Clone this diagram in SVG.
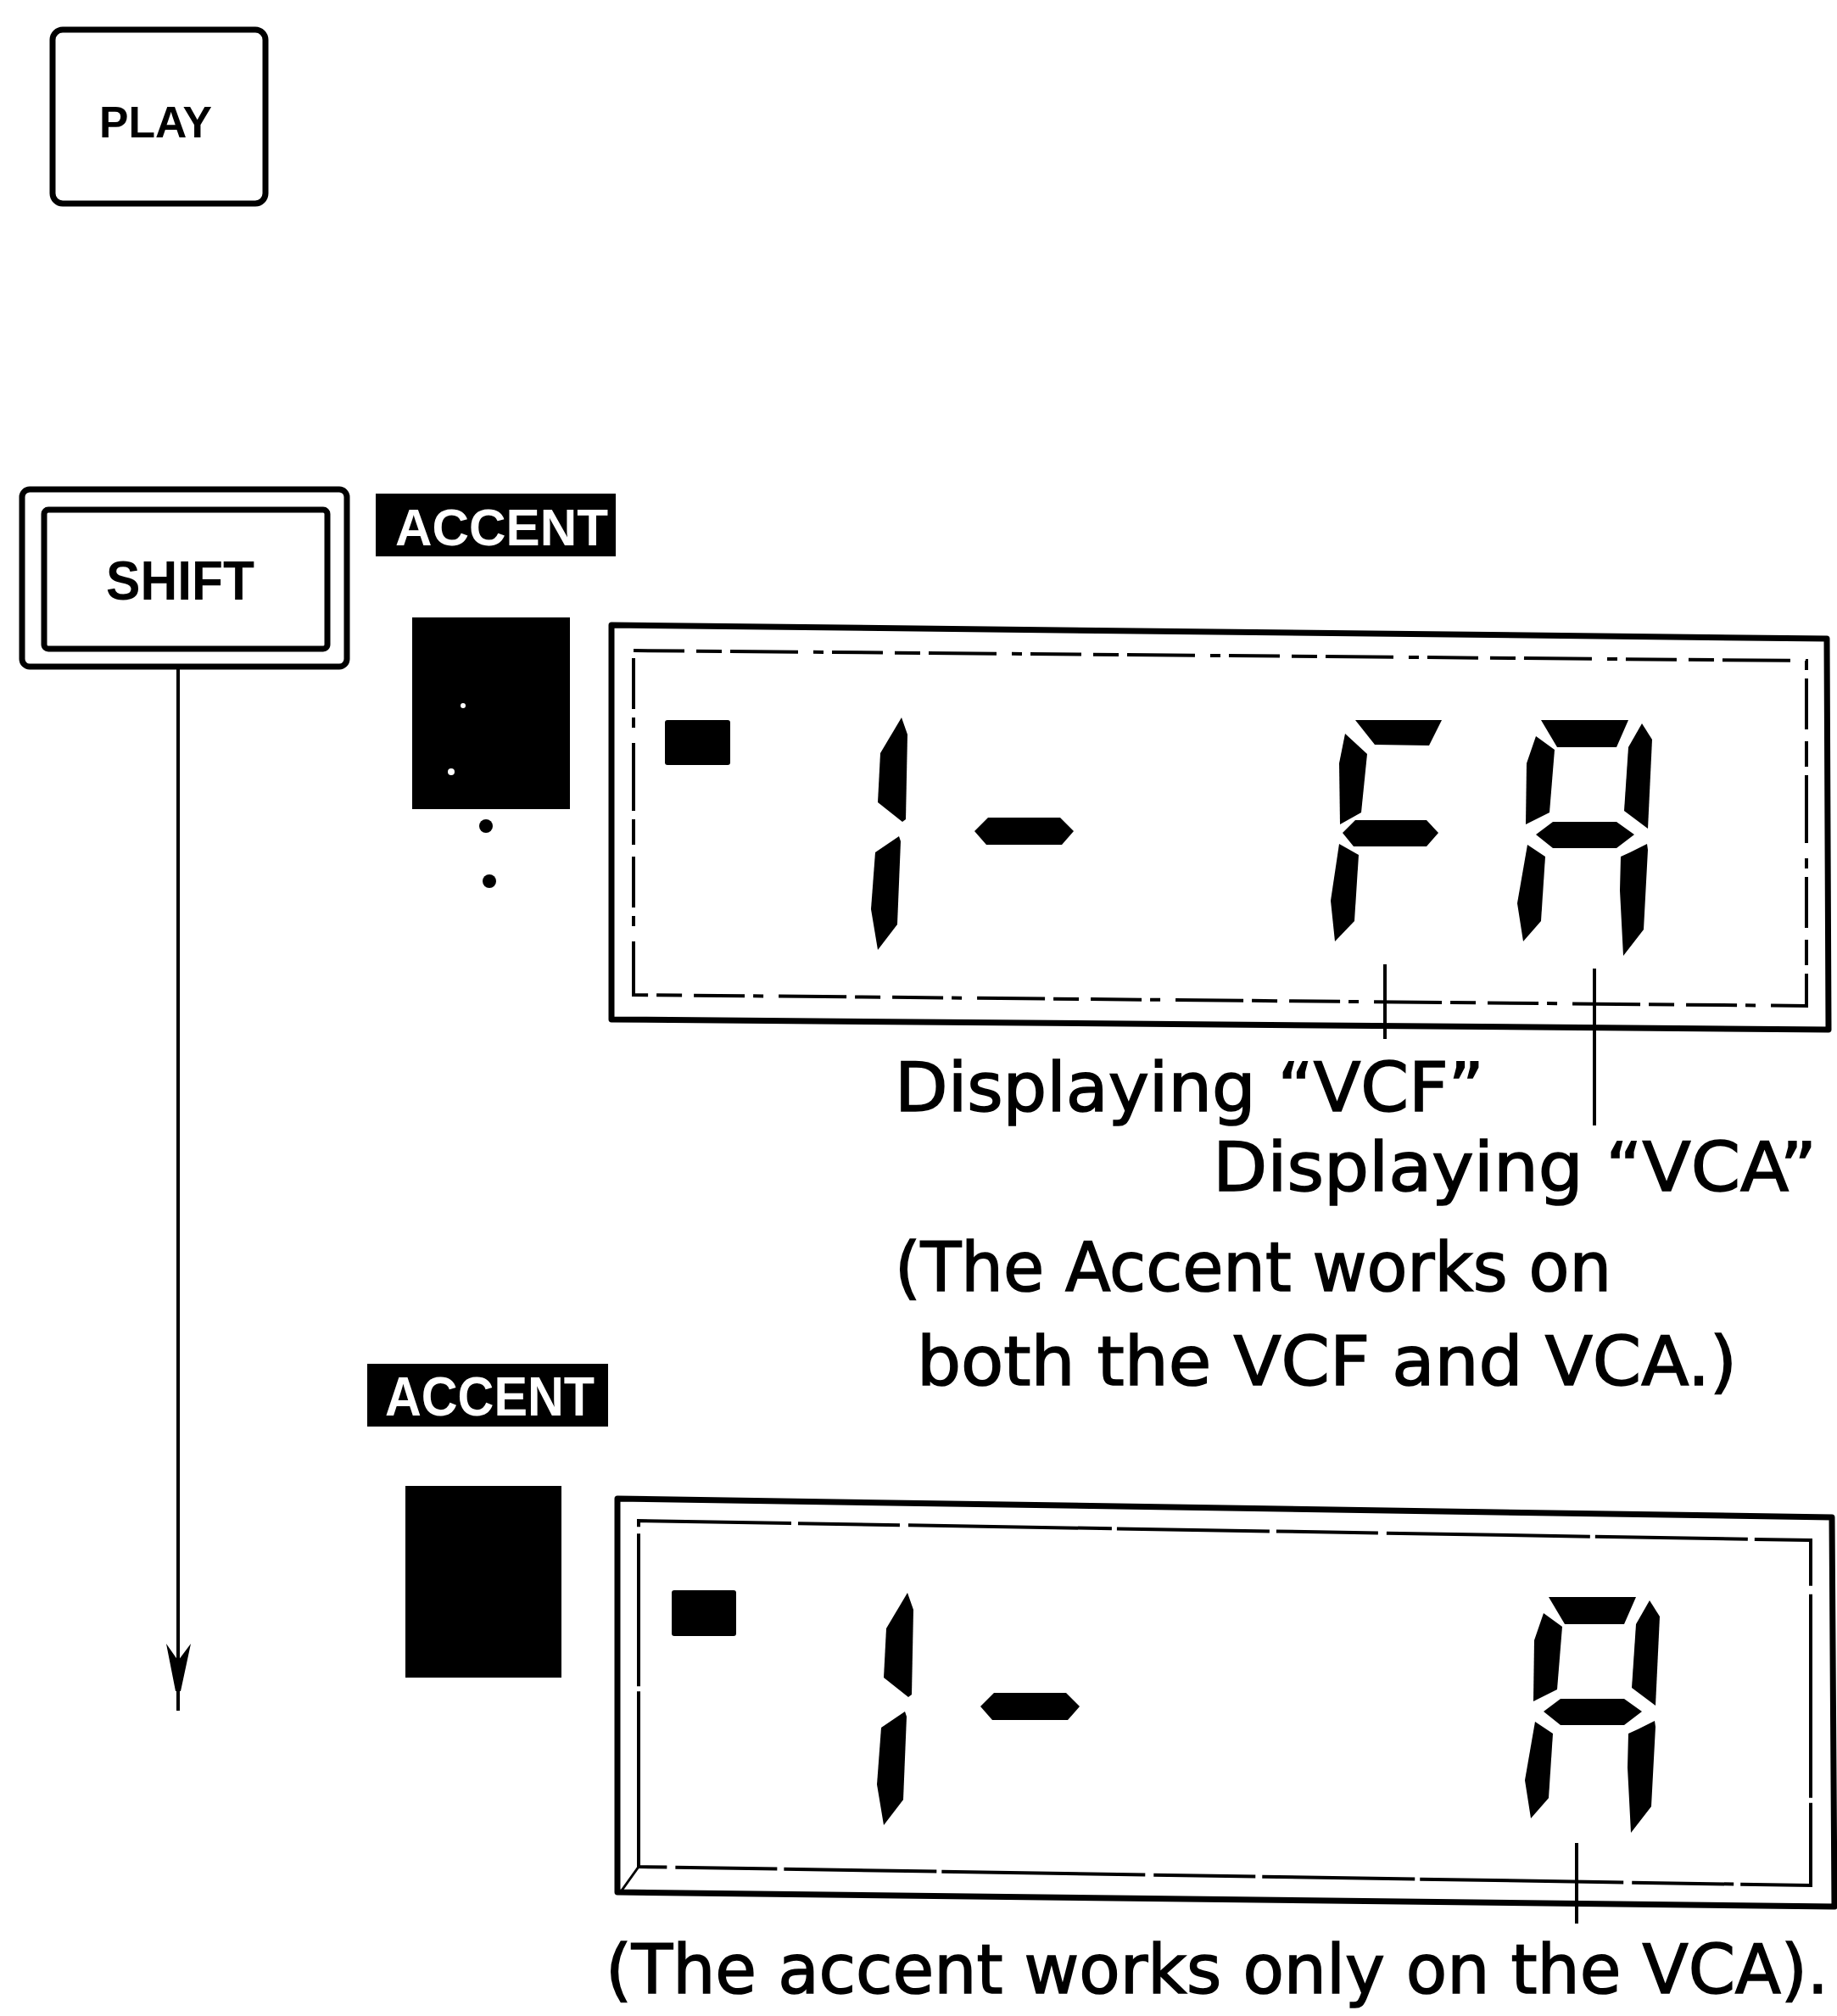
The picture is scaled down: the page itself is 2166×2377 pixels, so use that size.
<svg xmlns="http://www.w3.org/2000/svg" width="2166" height="2377" viewBox="0 0 2166 2377">
<style>
.key{font-family:"Liberation Sans",Arial,sans-serif;font-weight:bold;fill:#000}
.tag{font-family:"Liberation Sans",Arial,sans-serif;font-weight:bold;fill:#fff}
.lbl{font-family:"DejaVu Sans","Liberation Sans",sans-serif;font-size:80px;fill:#000;stroke:#000;stroke-width:1.6}
.seg{fill:#000}
.frame{fill:none;stroke:#000;stroke-width:7;stroke-linejoin:round}
.inner1{fill:none;stroke:#000;stroke-width:4;stroke-dasharray:60 14 30 10 80 18 12 10}
.inner2{fill:none;stroke:#000;stroke-width:4;stroke-dasharray:180 8 120 10 240 6}
.lead{stroke:#000;stroke-width:4;fill:none}
</style>
<rect width="2166" height="2377" fill="#fff"/>
<defs>
<g id="one">
<path class="seg" d="M1063,846 L1070,866 L1068,966 L1064,969 L1035,946 L1038,888 Z"/>
<path class="seg" d="M1060,986 L1062,992 L1058,1090 L1035,1120 L1027,1072 L1032,1005 Z"/>
<path class="seg" d="M1149,980 L1165,964 L1250,964 L1266,980 L1252,996 L1163,996 Z"/>
</g>
<g id="letterA">
<path class="seg" d="M1817,849 L1920,849 L1906,881 L1836,881 Z"/>
<path class="seg" d="M1936,853 L1948,872 L1943,977 L1915,956 L1920,881 Z"/>
<path class="seg" d="M1811,868 L1833,884 L1827,958 L1799,972 L1800,900 Z"/>
<path class="seg" d="M1811,984 L1831,969 L1906,969 L1927,984 L1906,1000 L1831,1000 Z"/>
<path class="seg" d="M1801,996 L1822,1010 L1817,1086 L1796,1110 L1789,1065 Z"/>
<path class="seg" d="M1942,995 L1943,1002 L1938,1096 L1914,1127 L1910,1050 L1911,1010 L1922,1005 Z"/>
</g>
</defs>

<g id="play">
<rect x="62" y="35" width="251" height="205" rx="12" class="frame"/>
<text class="key" x="117" y="162" font-size="52" textLength="133" lengthAdjust="spacingAndGlyphs">PLAY</text>
</g>

<g id="shift">
<rect x="26" y="577" width="383" height="209" rx="9" class="frame"/>
<rect x="52" y="601" width="334" height="164" rx="5" class="frame" stroke-width="5"/>
<text class="key" x="125" y="707" font-size="64" textLength="175" lengthAdjust="spacingAndGlyphs">SHIFT</text>
</g>

<g id="accent1">
<rect x="443" y="582" width="283" height="74" fill="#000"/>
<text class="tag" x="466" y="643" font-size="61" textLength="251" lengthAdjust="spacingAndGlyphs">ACCENT</text>
</g>

<g id="led1">
<rect x="486" y="728" width="186" height="226" fill="#000"/>
<circle cx="546" cy="832" r="3" fill="#fff"/>
<circle cx="532" cy="910" r="4" fill="#fff"/>
<circle cx="573" cy="974" r="8" fill="#000"/>
<circle cx="577" cy="1039" r="8" fill="#000"/>
</g>

<g id="lcd1">
<path class="frame" d="M721,737 L2154,753 L2156,1214 L721,1202 Z"/>
<path class="inner1" d="M747,767 L2130,779 L2130,1186 L747,1173 Z"/>
<rect x="784" y="849" width="77" height="53" rx="3" fill="#000"/>
<use href="#one"/>
<path class="seg" d="M1598,849 L1700,849 L1685,879 L1621,878 Z"/>
<path class="seg" d="M1586,865 L1612,889 L1605,958 L1580,972 L1579,900 Z"/>
<path class="seg" d="M1583,982 L1598,967 L1682,967 L1696,982 L1682,998 L1596,998 Z"/>
<path class="seg" d="M1579,995 L1602,1008 L1597,1086 L1574,1110 L1569,1062 Z"/>
<use href="#letterA"/>
</g>

<g id="label-vcf">
<text class="lbl" x="1055" y="1310" textLength="695" lengthAdjust="spacingAndGlyphs">Displaying “VCF”</text>
</g>
<g id="label-vca">
<text class="lbl" x="1430" y="1404" textLength="712" lengthAdjust="spacingAndGlyphs">Displaying “VCA”</text>
</g>
<g id="note1">
<text class="lbl" x="1055" y="1522" textLength="845" lengthAdjust="spacingAndGlyphs">(The Accent works on</text>
<text class="lbl" x="1081" y="1633" textLength="967" lengthAdjust="spacingAndGlyphs">both the VCF and VCA.)</text>
</g>

<g id="accent2">
<rect x="433" y="1608" width="284" height="74" fill="#000"/>
<text class="tag" x="454" y="1669" font-size="64" textLength="247" lengthAdjust="spacingAndGlyphs">ACCENT</text>
</g>

<g id="led2">
<rect x="478" y="1752" width="184" height="226" fill="#000"/>
</g>

<g id="lcd2">
<path class="frame" d="M728,1767 L2160,1789 L2163,2248 L728,2231 Z"/>
<path class="inner2" d="M753,1793 L2135,1816 L2135,2223 L753,2201 Z"/>
<line x1="753" y1="2201" x2="733" y2="2229" stroke="#000" stroke-width="3"/>
<rect x="792" y="1875" width="76" height="54" rx="3" fill="#000"/>
<use href="#one" transform="translate(7,1032)"/>
<use href="#letterA" transform="translate(9,1034)"/>
</g>

<g id="note2">
<text class="lbl" x="714" y="2350" font-size="78" textLength="1442" lengthAdjust="spacingAndGlyphs">(The accent works only on the VCA).</text>
</g>

<g id="connectors">
<line class="lead" x1="210" y1="786" x2="210" y2="2017" stroke-width="5"/>
<path d="M196,1938 L210,1958 L225,1938 L213,1994 L207,1994 Z" fill="#000"/>
<line class="lead" x1="1633" y1="1137" x2="1633" y2="1225"/>
<line class="lead" x1="1880" y1="1142" x2="1880" y2="1327"/>
<line class="lead" x1="1859" y1="2173" x2="1859" y2="2268"/>
</g>
</svg>
